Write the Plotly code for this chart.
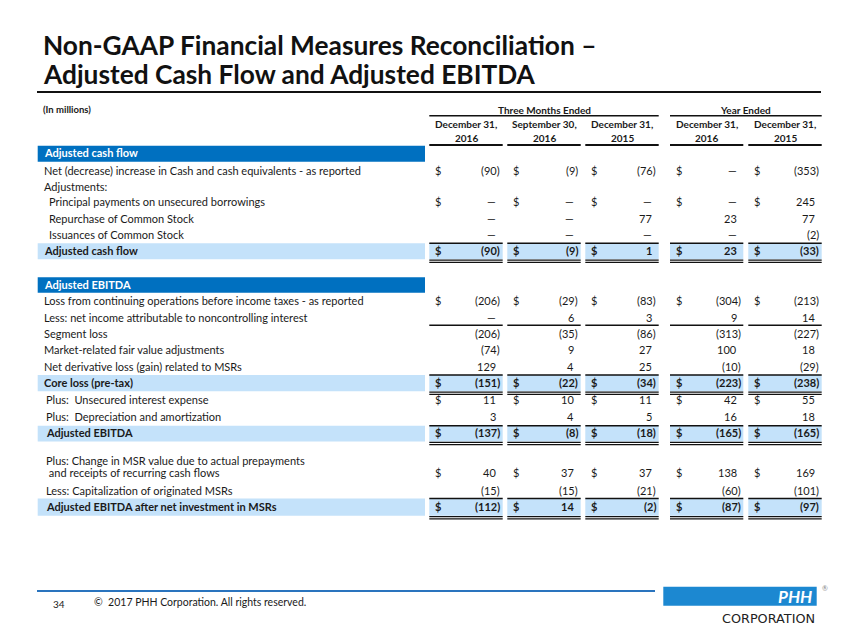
import plotly.graph_objects as go

# ---------------- data ----------------
title_lines = ["Non-GAAP Financial Measures Reconciliation –",
               "Adjusted Cash Flow and Adjusted EBITDA"]
unit_label = "(In millions)"
period_groups = ["Three Months Ended", "Year Ended"]
col_dates = ["December 31,", "September 30,", "December 31,", "December 31,", "December 31,"]
col_years = ["2016", "2016", "2015", "2016", "2015"]

cash_section = "Adjusted cash flow"
cash_labels = ["Net (decrease) increase in Cash and cash equivalents - as reported",
               "Adjustments:",
               "Principal payments on unsecured borrowings",
               "Repurchase of Common Stock",
               "Issuances of Common Stock",
               "Adjusted cash flow"]
net_cash_change = [-90, -9, -76, None, -353]
principal_payments = [None, None, None, None, 245]
stock_repurchase = [None, None, 77, 23, 77]
stock_issuance = [None, None, None, None, -2]
adjusted_cash_flow = [-90, -9, 1, 23, -33]

ebitda_section = "Adjusted EBITDA"
ebitda_labels = ["Loss from continuing operations before income taxes - as reported",
                 "Less: net income attributable to noncontrolling interest",
                 "Segment loss",
                 "Market-related fair value adjustments",
                 "Net derivative loss (gain) related to MSRs",
                 "Core loss (pre-tax)",
                 "Plus:  Unsecured interest expense",
                 "Plus:  Depreciation and amortization",
                 "Adjusted EBITDA",
                 "Plus: Change in MSR value due to actual prepayments",
                 " and receipts of recurring cash flows",
                 "Less: Capitalization of originated MSRs",
                 "Adjusted EBITDA after net investment in MSRs"]
loss_continuing_ops = [-206, -29, -83, -304, -213]
noncontrolling_income = [None, 6, 3, 9, 14]
segment_loss = [-206, -35, -86, -313, -227]
market_fair_value = [-74, 9, 27, 100, 18]
net_derivative_msr = [129, 4, 25, -10, -29]
core_loss_pretax = [-151, -22, -34, -223, -238]
unsecured_interest = [11, 10, 11, 42, 55]
depreciation_amort = [3, 4, 5, 16, 18]
adjusted_ebitda = [-137, -8, -18, -165, -165]
msr_value_change = [40, 37, 37, 138, 169]
msr_capitalization = [-15, -15, -21, -60, -101]
adjusted_ebitda_msr = [-112, 14, -2, -87, -97]

footer_page = "34"
footer_text = "©  2017 PHH Corporation. All rights reserved."
logo_text = "PHH"
logo_sub = "CORPORATION"

# ---------------- layout constants ----------------
W, H = 847, 635
PAGE_OFFSET = 8          # default body margin of the html page
FONT = "Lato"
TXT = "#1a1a1a"
BLUE = "#0070C0"
LIGHT = "#C4E2FA"
DY = -1.0                # small vertical nudge for text
col_left = [429.3, 507.3, 585.3, 670.0, 748.3]
col_right = [502.7, 580.7, 658.7, 743.3, 821.7]
label_left, label_right = 37.7, 425.0

shapes = []
ann = []


def text(x, y, s, size=11, bold=False, anchor="left", color=TXT, family=FONT, italic=False):
    ann.append(dict(x=x, y=y + DY, xref="x", yref="y", text=s, showarrow=False,
                    xanchor=anchor, yanchor="middle",
                    font=dict(family=family, size=size, color=color,
                              weight="bold" if bold else "normal",
                              style="italic" if italic else "normal")))


def hline(x0, x1, y, width=1.0, color="#111"):
    shapes.append(dict(type="line", xref="x", yref="y", x0=x0, x1=x1, y0=y, y1=y,
                       line=dict(color=color, width=width)))


def rect(x0, x1, y0, y1, color):
    shapes.append(dict(type="rect", xref="x", yref="y", x0=x0, x1=x1, y0=y0, y1=y1,
                       line=dict(width=0), fillcolor=color, layer="below"))


def fmt(v):
    if v is None:
        return "—"
    if v < 0:
        return "(%d)" % (-v)
    return "%d" % v


def values_row(vals, y, dollar=False, bold=False):
    for i, v in enumerate(vals):
        if dollar:
            text(col_left[i] + 3.5, y, "$", bold=bold)
        s = fmt(v)
        xr = col_right[i] - 0.3 if (v is not None and v < 0) else col_right[i] - 4.3
        text(xr, y, s, bold=bold, anchor="right")


def section_bar(y0, y1, label):
    rect(label_left, label_right, y0, y1, BLUE)
    text(label_left + 4, (y0 + y1) / 2, label, bold=True, color="white")


def total_row(y0, y1, label, vals, indent=4):
    rect(label_left, label_right, y0, y1, LIGHT)
    for i in range(5):
        rect(col_left[i], col_right[i], y0, y1, LIGHT)
        hline(col_left[i], col_right[i], y0, 1.6)
        hline(col_left[i], col_right[i], y1 + 0.8, 1.2)
        hline(col_left[i], col_right[i], y1 + 3.0, 1.2)
    text(label_left + indent, (y0 + y1) / 2, label, bold=True)
    values_row(vals, (y0 + y1) / 2, dollar=True, bold=True)


# ---------------- title ----------------
text(41, 46, title_lines[0], size=26.3, bold=True, color="#111")
text(41, 74.5, title_lines[1], size=26.3, bold=True, color="#111")
hline(37, 821, 92, 2.0, "#111")

# ---------------- header ----------------
text(41, 110.5, unit_label, size=9.5, bold=True)
text((col_left[0] + col_right[2]) / 2, 110.5, period_groups[0], size=10, bold=True, anchor="center")
text((col_left[3] + col_right[4]) / 2, 110.5, period_groups[1], size=10, bold=True, anchor="center")
hline(col_left[0], col_right[2], 115.8, 1.6)
hline(col_left[3], col_right[4], 115.8, 1.6)
for i in range(5):
    cx = (col_left[i] + col_right[i]) / 2
    text(cx, 125.3, col_dates[i], size=10, bold=True, anchor="center")
    text(cx, 139.3, col_years[i], size=10, bold=True, anchor="center")
    hline(col_left[i], col_right[i], 145, 1.8)

# ---------------- cash flow section ----------------
section_bar(145.8, 161.7, cash_section)
text(label_left + 4, 171, cash_labels[0])
values_row(net_cash_change, 171, dollar=True)
text(label_left + 4, 187.3, cash_labels[1])
text(label_left + 9.6, 202.7, cash_labels[2])
values_row(principal_payments, 202.7, dollar=True)
text(label_left + 9.6, 219, cash_labels[3])
values_row(stock_repurchase, 219)
text(label_left + 9.6, 235.5, cash_labels[4])
values_row(stock_issuance, 235.5)
total_row(243.3, 259.3, cash_labels[5], adjusted_cash_flow)

# ---------------- EBITDA section ----------------
section_bar(277.3, 292.7, ebitda_section)
text(label_left + 4, 301.7, ebitda_labels[0])
values_row(loss_continuing_ops, 301.7, dollar=True)
text(label_left + 4, 318.3, ebitda_labels[1])
values_row(noncontrolling_income, 318.3)
for i in range(5):
    hline(col_left[i], col_right[i], 325.3, 1.6)
text(label_left + 4, 334, ebitda_labels[2])
values_row(segment_loss, 334)
text(label_left + 4, 350.7, ebitda_labels[3])
values_row(market_fair_value, 350.7)
text(label_left + 4, 367.3, ebitda_labels[4])
values_row(net_derivative_msr, 367.3)
total_row(375.0, 391.3, ebitda_labels[5], core_loss_pretax)
text(label_left + 6.6, 400, ebitda_labels[6])
values_row(unsecured_interest, 400, dollar=True)
text(label_left + 6.6, 417, ebitda_labels[7])
values_row(depreciation_amort, 417)
total_row(425.8, 441.6, ebitda_labels[8], adjusted_ebitda, indent=6.6)
text(label_left + 6.6, 461, ebitda_labels[9])
text(label_left + 6.6, 473, ebitda_labels[10])
values_row(msr_value_change, 473.3, dollar=True)
text(label_left + 6.6, 491, ebitda_labels[11])
values_row(msr_capitalization, 491)
total_row(498.5, 515.8, ebitda_labels[12], adjusted_ebitda_msr, indent=6.6)

# ---------------- footer ----------------
hline(37, 655, 591, 2.0, "#2A74BE")
text(51, 605, footer_page, size=10)
text(91.5, 603.3, footer_text, size=10.5)
rect(663.3, 816.7, 586.7, 605.7, "#1C88D1")
text(814, 597.3, logo_text, size=17, bold=True, italic=True, color="white", anchor="right")
text(820, 589, "®", size=7, color="#888", anchor="left")
text(817, 619.5, logo_sub, size=12.8, color="#222", anchor="right", family="DejaVu Sans")

fig = go.Figure()
fig.add_trace(go.Scatter(x=[PAGE_OFFSET, W], y=[PAGE_OFFSET, H], mode="markers",
                         marker=dict(opacity=0), hoverinfo="skip", showlegend=False))
fig.update_layout(
    width=W - PAGE_OFFSET, height=H - PAGE_OFFSET, margin=dict(l=0, r=0, t=0, b=0),
    paper_bgcolor="white", plot_bgcolor="white",
    xaxis=dict(range=[PAGE_OFFSET, W], visible=False, fixedrange=True),
    yaxis=dict(range=[H, PAGE_OFFSET], visible=False, fixedrange=True),
    shapes=shapes, annotations=ann, showlegend=False,
)
fig.write_html("out.html")
